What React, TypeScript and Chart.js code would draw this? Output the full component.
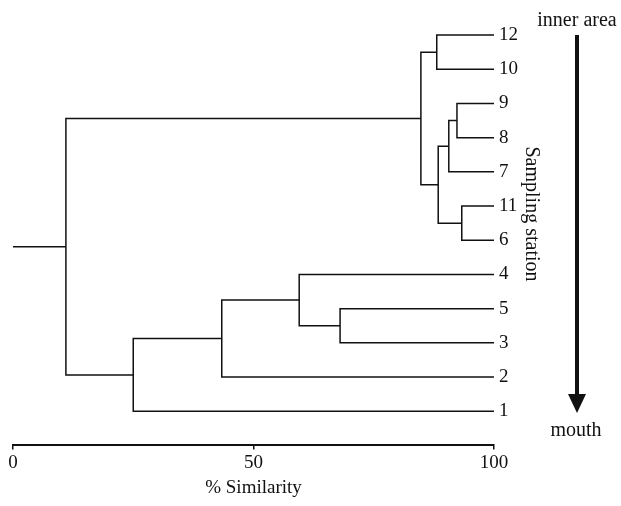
import React, { useEffect, useRef } from "react";
import { Chart, registerables } from "chart.js";

Chart.register(...registerables);

// Leaves, top to bottom
const leaves = ["12", "10", "9", "8", "7", "11", "6", "4", "5", "3", "2", "1"];
// Merge steps: children ("L" = leaf index, "N" = merge index) and % similarity level
const mergeA = ["L0", "L2", "N1", "L5", "N2", "N0", "L8", "L7", "N7", "N8", "N5"];
const mergeB = ["L1", "L3", "L4", "L6", "N3", "N4", "L9", "N6", "L10", "L11", "N9"];
const mergeSim = [88.1, 92.3, 90.6, 93.3, 88.4, 84.8, 68.0, 59.5, 43.4, 25.0, 11.0];
const xTicks = [0, 50, 100];

const FONT = "'Liberation Serif', 'Times New Roman', serif";
const INK = "#111";

function buildDatasets() {
  const nodeY: number[] = [];
  const ref = (r: string) => {
    const i = parseInt(r.slice(1), 10);
    return r[0] === "L" ? { x: 100, y: i } : { x: mergeSim[i], y: nodeY[i] };
  };
  const sets: any[] = [];
  mergeSim.forEach((s, i) => {
    const a = ref(mergeA[i]);
    const b = ref(mergeB[i]);
    nodeY[i] = (a.y + b.y) / 2;
    sets.push({
      data: [
        { x: a.x, y: a.y },
        { x: s, y: a.y },
        { x: s, y: b.y },
        { x: b.x, y: b.y },
      ],
    });
  });
  const root = mergeSim.length - 1;
  sets.push({ data: [{ x: 0, y: nodeY[root] }, { x: mergeSim[root], y: nodeY[root] }] });
  return sets.map((d) => ({
    ...d,
    borderColor: INK,
    borderWidth: 1.5,
    pointRadius: 0,
    fill: false,
    tension: 0,
    clip: false,
  }));
}

const annotations = {
  id: "annotations",
  afterDraw(chart: any) {
    const ctx = chart.ctx;
    ctx.save();
    ctx.fillStyle = INK;
    ctx.strokeStyle = INK;
    ctx.font = `20px ${FONT}`;
    ctx.textAlign = "center";
    ctx.textBaseline = "middle";
    ctx.fillText("inner area", 577, 21);
    ctx.fillText("mouth", 576, 431);
    // arrow
    ctx.lineWidth = 4;
    ctx.beginPath();
    ctx.moveTo(577, 35);
    ctx.lineTo(577, 397);
    ctx.stroke();
    ctx.beginPath();
    ctx.moveTo(568, 394);
    ctx.lineTo(586, 394);
    ctx.lineTo(577, 413);
    ctx.closePath();
    ctx.fill();
    // rotated title
    ctx.translate(531, 214);
    ctx.rotate(Math.PI / 2);
    ctx.fillText("Sampling station", 0, 0);
    ctx.restore();
  },
};

export default function App() {
  const ref = useRef<HTMLCanvasElement>(null);
  useEffect(() => {
    if (!ref.current) return;
    const chart = new Chart(ref.current, {
      type: "line",
      data: { datasets: buildDatasets() },
      options: {
        responsive: false,
        animation: false,
        events: [],
        layout: { padding: { left: 13, right: 98, top: 18, bottom: 7 } },
        plugins: { legend: { display: false }, tooltip: { enabled: false } },
        scales: {
          x: {
            type: "linear",
            position: "bottom",
            min: 0,
            max: 100,
            afterBuildTicks: (axis: any) => {
              axis.ticks = xTicks.map((v) => ({ value: v }));
            },
            grid: {
              display: true,
              drawOnChartArea: false,
              drawTicks: true,
              tickLength: 4,
              color: INK,
              lineWidth: 1.5,
            },
            border: { display: true, color: INK, width: 2 },
            ticks: {
              color: INK,
              font: { family: FONT, size: 19 },
              padding: 2,
              maxRotation: 0,
            },
            title: {
              display: true,
              text: "% Similarity",
              color: INK,
              font: { family: FONT, size: 19 },
              padding: { top: 0, bottom: 0 },
            },
          },
          y: {
            type: "linear",
            position: "right",
            reverse: true,
            min: -0.5,
            max: 12,
            afterBuildTicks: (axis: any) => {
              axis.ticks = leaves.map((_, i) => ({ value: i }));
            },
            grid: { display: false, drawTicks: false, tickLength: 0 },
            border: { display: false },
            ticks: {
              color: INK,
              font: { family: FONT, size: 19 },
              padding: 5,
              callback: (v: any) => leaves[v as number] ?? "",
            },
          },
        },
      },
      plugins: [annotations],
    });
    return () => chart.destroy();
  }, []);
  return (
    <div style={{ position: "absolute", left: 0, top: 0, width: 621, height: 506, background: "#fff" }}>
      <canvas ref={ref} width={621} height={506} style={{ display: "block" }} />
    </div>
  );
}
